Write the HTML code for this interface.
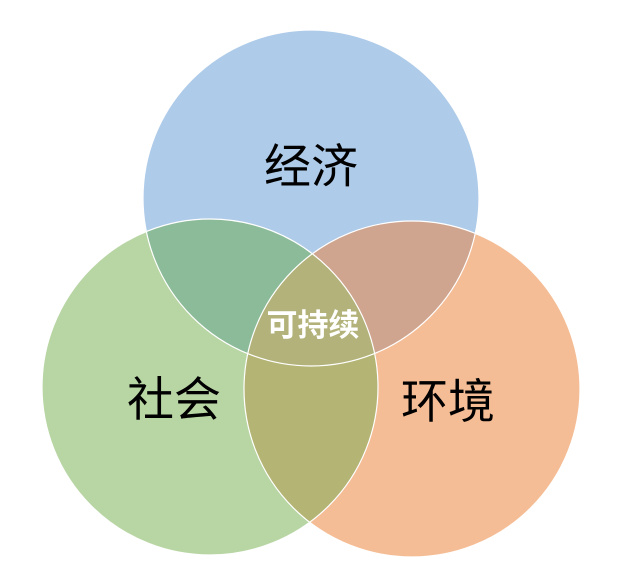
<!DOCTYPE html>
<html><head><meta charset="utf-8"><style>html,body{margin:0;padding:0;background:#fff}svg{display:block}</style></head><body>
<svg width="622" height="564" viewBox="0 0 622 564" xmlns="http://www.w3.org/2000/svg">
<defs>
<clipPath id="cb"><circle cx="311" cy="198" r="168"/></clipPath>
<clipPath id="cg"><circle cx="210" cy="387" r="168"/></clipPath>
<clipPath id="co"><circle cx="412" cy="389" r="168"/></clipPath>
</defs>
<circle cx="311" cy="198" r="168" fill="#aecbe9"/>
<circle cx="210" cy="387" r="168" fill="#b8d5a4"/>
<circle cx="412" cy="389" r="168" fill="#f5bd95"/>
<g clip-path="url(#cb)"><circle cx="210" cy="387" r="168" fill="#8bbb98"/><circle cx="412" cy="389" r="168" fill="#cfa58f"/></g>
<g clip-path="url(#cg)"><circle cx="412" cy="389" r="168" fill="#b4b474"/></g>
<g clip-path="url(#cb)"><g clip-path="url(#cg)"><circle cx="412" cy="389" r="168" fill="#b2b27a"/></g></g>
<g fill="none" stroke="#fff" stroke-width="1.2">
<circle cx="311" cy="198" r="168"/><circle cx="210" cy="387" r="168"/><circle cx="412" cy="389" r="168"/>
</g>
<g font-family="'Liberation Sans','Noto Sans CJK SC',sans-serif" text-anchor="middle">
<text x="311" y="183" font-size="47" fill="#000">经济</text>
<text x="174" y="416" font-size="47" fill="#000">社会</text>
<text x="448" y="418" font-size="47" fill="#000">环境</text>
<text x="313" y="336" font-size="31" font-weight="bold" fill="#fff">可持续</text>
</g>
</svg>
</body></html>
